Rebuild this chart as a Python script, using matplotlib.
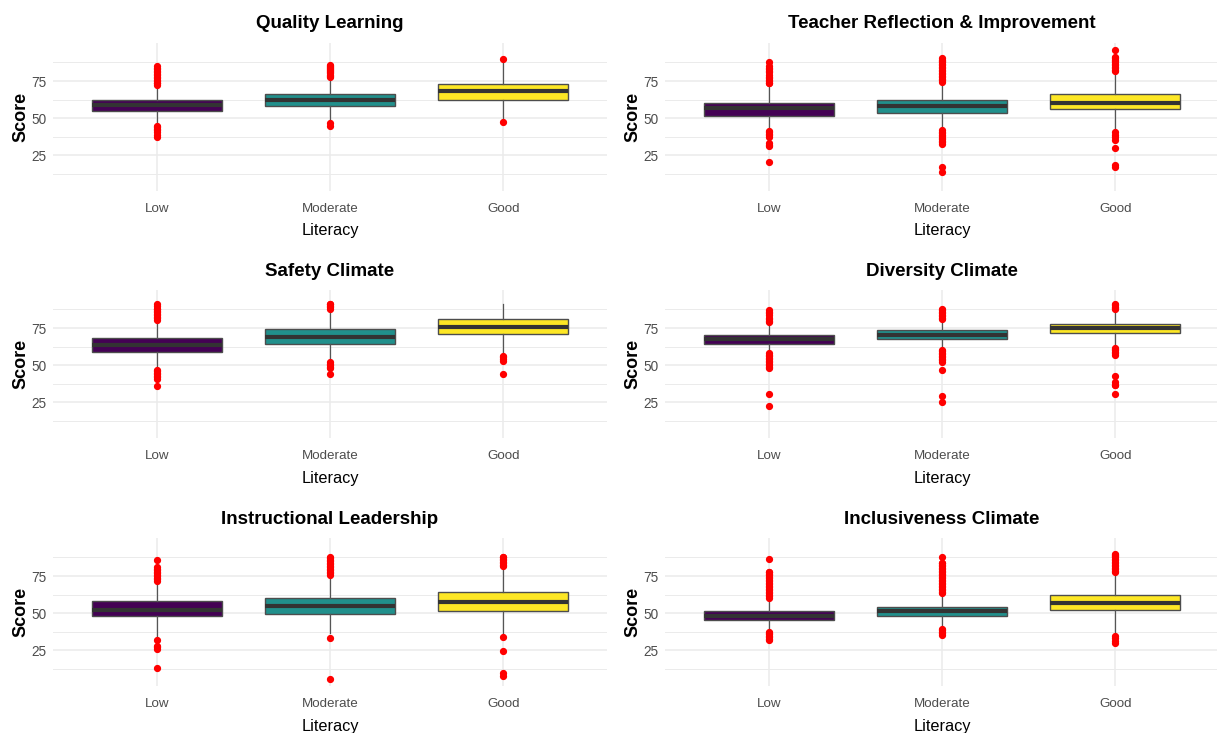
import matplotlib
matplotlib.use("Agg")
import matplotlib.pyplot as plt
from matplotlib.ticker import FixedLocator

# ---------------------------------------------------------------- data
categories = ["Low", "Moderate", "Good"]
titles = [
    "Quality Learning", "Teacher Reflection & Improvement",
    "Safety Climate", "Diversity Climate",
    "Instructional Leadership", "Inclusiveness Climate",
]

# box statistics per panel, one value per literacy level (Low, Moderate, Good)
q1 = [
    [55.2, 58.0, 62.5],
    [51.8, 53.6, 55.9],
    [58.7, 64.5, 71.2],
    [64.5, 67.4, 71.4],
    [48.0, 49.5, 51.6],
    [45.7, 48.4, 52.3],
]
medians = [
    [58.9, 62.0, 68.2],
    [56.8, 58.0, 60.2],
    [63.4, 69.2, 75.9],
    [67.4, 70.5, 74.8],
    [52.5, 54.8, 57.5],
    [48.4, 51.4, 57.0],
]
q3 = [
    [62.5, 66.1, 73.0],
    [60.5, 62.0, 66.1],
    [68.5, 74.1, 80.8],
    [70.5, 73.4, 77.9],
    [58.2, 60.2, 64.1],
    [51.4, 54.5, 62.5],
]
whisker_low = [
    [46.0, 48.0, 49.5],
    [42.5, 43.0, 42.0],
    [48.0, 53.0, 58.0],
    [58.5, 61.5, 62.5],
    [34.0, 37.0, 35.5],
    [38.5, 40.5, 37.5],
]
whisker_high = [
    [72.0, 77.5, 88.5],
    [73.0, 74.0, 80.5],
    [79.0, 87.0, 91.5],
    [78.0, 80.5, 87.0],
    [71.5, 75.5, 81.0],
    [59.5, 63.0, 77.0],
]

# outlying scores per panel and literacy level
outliers = [
    [  # Quality Learning
        [37.5, 39.0, 40.5, 42.0, 43.0, 44.0, 45.0,
         72.5, 73.5, 74.0, 75.0, 76.0, 77.0, 78.0, 79.0, 80.0, 81.0, 82.0, 83.0, 84.0, 85.0],
        [44.5, 46.5,
         78.0, 78.7, 79.4, 80.1, 80.8, 81.5, 82.2, 82.9, 83.6, 84.3, 85.0, 85.7],
        [47.3, 90.0],
    ],
    [  # Teacher Reflection & Improvement
        [20.7, 31.0, 32.0, 33.5, 37.5, 38.5, 39.5, 40.5, 41.5,
         73.5, 74.0, 75.0, 76.0, 77.0, 78.0, 79.0, 81.0, 82.0, 83.0, 84.0, 85.0, 88.0],
        [14.0, 17.5, 33.0, 34.0, 35.0, 36.0, 37.0, 38.0, 39.0, 40.0, 41.0, 42.0,
         74.5, 75.5, 76.5, 77.5, 78.5, 79.5, 80.5, 81.5, 82.5, 83.5, 84.5, 85.5,
         86.5, 87.5, 88.5, 89.5, 90.5],
        [17.0, 18.5, 30.0, 35.5, 37.5, 39.0, 40.5,
         81.5, 82.5, 83.5, 84.5, 85.5, 86.5, 87.5, 88.5, 89.5, 90.5, 91.0, 96.0],
    ],
    [  # Safety Climate
        [36.0, 41.0, 42.0, 43.0, 44.0, 45.0, 46.0, 47.0,
         80.5, 81.5, 82.5, 83.5, 84.5, 85.5, 86.5, 87.5, 88.0, 90.0, 91.0],
        [44.0, 48.0, 49.0, 50.0, 51.0, 52.0,
         88.0, 89.0, 90.0, 91.0, 91.5],
        [44.0, 53.0, 54.5, 55.5, 56.5],
    ],
    [  # Diversity Climate
        [22.5, 30.5, 48.0, 49.0, 50.0, 51.0, 52.0, 53.0, 54.0, 55.0, 56.0, 57.0, 58.0,
         79.0, 80.0, 81.0, 82.0, 84.0, 85.0, 86.0, 87.0],
        [25.0, 29.0, 46.5, 52.5, 53.5, 54.5, 55.5, 56.5, 57.5, 58.5, 59.5, 60.5,
         81.0, 82.0, 83.0, 84.0, 85.0, 86.0, 87.0, 88.0],
        [30.5, 36.5, 37.0, 38.5, 42.5, 57.0, 58.0, 59.0, 60.0, 61.0, 61.5,
         87.5, 88.5, 89.5, 90.5, 91.5],
    ],
    [  # Instructional Leadership
        [13.5, 26.0, 27.0, 28.0, 32.0,
         72.0, 73.0, 74.0, 75.0, 76.0, 77.0, 78.0, 79.0, 80.0, 81.0, 86.0],
        [5.5, 33.5,
         76.0, 77.0, 78.0, 79.0, 80.0, 81.0, 82.0, 83.0, 84.0, 85.0, 86.0, 87.0, 88.0],
        [7.5, 10.0, 24.5, 34.0,
         81.5, 82.5, 83.5, 84.5, 85.5, 86.5, 87.5, 88.0],
    ],
    [  # Inclusiveness Climate
        [32.0, 33.0, 34.0, 35.0, 36.0, 37.0, 37.5,
         60.5, 61.5, 62.5, 63.5, 64.5, 65.5, 66.5, 67.5, 68.5, 69.5, 70.5, 71.5,
         72.5, 73.5, 74.5, 75.5, 76.5, 77.5, 78.0, 86.5],
        [35.5, 36.5, 37.5, 38.5, 39.5,
         63.5, 64.5, 65.5, 66.5, 67.5, 68.5, 69.5, 70.5, 71.5, 72.5, 73.5, 74.5,
         75.5, 76.5, 77.5, 78.5, 79.5, 80.5, 81.5, 82.5, 83.5, 84.0, 88.0],
        [30.0, 31.0, 33.5, 34.5,
         77.5, 78.5, 79.5, 80.5, 81.5, 82.5, 83.5, 84.5, 85.5, 86.5, 87.5, 88.5, 89.5, 90.0],
    ],
]

# ---------------------------------------------------------------- style
fill_colors = ["#440154", "#21908C", "#FDE725"]
grid_color = "#EBEBEB"
tick_color = "#4D4D4D"
font = "Liberation Sans"

W, H = 1217, 733
fig = plt.figure(figsize=(W / 100, H / 100), dpi=100)
fig.patch.set_facecolor("white")

col_left = [53, 665]
panel_width = 554
row_top = [43, 290, 538]
panel_height = 147.5


def fx(px):
    return px / W


def fy(py):
    return 1 - py / H


for idx, title in enumerate(titles):
    row, col = divmod(idx, 2)
    left, top = col_left[col], row_top[row]
    ax = fig.add_axes([fx(left), fy(top + panel_height), fx(panel_width), panel_height / H])
    ax.set_facecolor("white")

    positions = list(range(1, len(categories) + 1))
    stats = []
    for j, cat in enumerate(categories):
        stats.append({
            "label": cat,
            "med": medians[idx][j],
            "q1": q1[idx][j],
            "q3": q3[idx][j],
            "whislo": whisker_low[idx][j],
            "whishi": whisker_high[idx][j],
            "fliers": outliers[idx][j],
        })

    bp = ax.bxp(
        stats, positions=positions, widths=0.75, patch_artist=True,
        showcaps=False, showfliers=True,
        boxprops=dict(edgecolor="#4D4D4D", linewidth=1.0),
        medianprops=dict(color="#333333", linewidth=3.0, solid_capstyle="butt"),
        whiskerprops=dict(color="#555555", linewidth=0.9),
        flierprops=dict(marker="o", markerfacecolor="red", markeredgecolor="red",
                        markersize=4.2, linestyle="none"),
        zorder=3,
    )
    for patch, color in zip(bp["boxes"], fill_colors):
        patch.set_facecolor(color)

    ax.set_xlim(0.4, 3.6)
    ax.set_ylim(1.4, 100.6)

    ax.yaxis.set_major_locator(FixedLocator([25, 50, 75]))
    ax.yaxis.set_minor_locator(FixedLocator([12.5, 37.5, 62.5, 87.5]))
    ax.set_xticks(positions)
    ax.set_xticklabels(categories)

    ax.grid(True, which="major", color=grid_color, linewidth=1.1, zorder=0)
    ax.grid(True, which="minor", axis="y", color=grid_color, linewidth=0.7, zorder=0)
    ax.set_axisbelow(True)
    for spine in ax.spines.values():
        spine.set_visible(False)

    ax.tick_params(axis="both", which="both", length=0)
    ax.tick_params(axis="x", pad=9.0, labelsize=9.6, labelcolor=tick_color)
    ax.tick_params(axis="y", pad=5.0, labelsize=9.8, labelcolor=tick_color)
    for lab in ax.get_xticklabels() + ax.get_yticklabels():
        lab.set_fontfamily(font)

    cx = left + panel_width / 2
    fig.text(fx(cx), fy(top - 14.5), title, ha="center", va="baseline",
             fontsize=13.5, fontweight="bold", family=font, color="black")
    fig.text(fx(cx), fy(top + panel_height + 45), "Literacy", ha="center", va="baseline",
             fontsize=11.7, family=font, color="black")
    fig.text(fx(left - 32), fy(top + panel_height / 2), "Score", ha="center", va="center",
             rotation=90, fontsize=13, fontweight="bold", family=font, color="black")

fig.savefig("out.png", dpi=100, facecolor="white")
